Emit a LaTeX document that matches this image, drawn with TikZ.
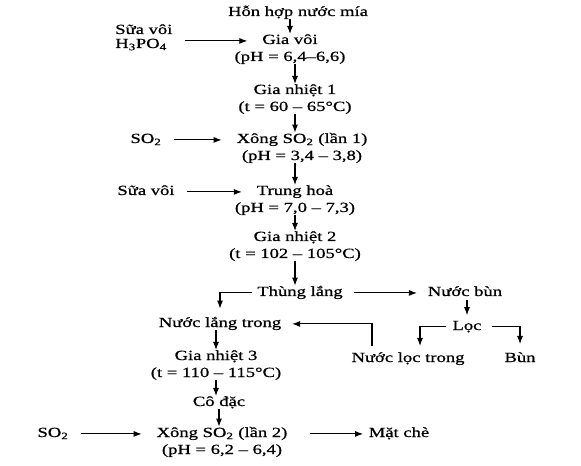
\documentclass[tikz,border=0pt]{standalone}
\usepackage{fontspec}
\setmainfont[FakeStretch=1.33, FakeBold=0.8]{Liberation Serif}
\usetikzlibrary{arrows.meta, positioning}
\tikzset{
    stage/.style={anchor=base, inner sep=0pt, font=\fontsize{10.5}{12.75}\selectfont},
    feed/.style={stage, anchor=base west},
    arrow/.style={-{Latex[length=6pt,width=4.5pt]}, line width=0.8pt},
    feedarrow/.style={arrow, shorten <=9pt, shorten >=11pt},
}

\begin{document}
\begin{tikzpicture}[x=0.75pt, y=-0.75pt]
    \useasboundingbox (0,0) rectangle (581,466);

    % main line
    \node[stage] (mix) at (298,16) {Hỗn hợp nước mía};
    \node[stage] (lime) at (290,44) {Gia vôi};
    \node[stage] (limeph) at ([yshift=-12.75pt]lime.base) {(pH = 6,4–6,6)};
    \node[stage] (heat1) at (295,94) {Gia nhiệt 1};
    \node[stage] (heat1t) at ([yshift=-12.75pt]heat1.base) {(t = 60 – 65°C)};
    \node[stage] (sulf1) at (302,143) {Xông SO\textsubscript{2} (lần 1)};
    \node[stage] (sulf1ph) at ([yshift=-12.75pt]sulf1.base) {(pH = 3,4 – 3,8)};
    \node[stage] (neutr) at (295,195) {Trung hoà};
    \node[stage] (neutrph) at ([yshift=-12.75pt]neutr.base) {(pH = 7,0 – 7,3)};
    \node[stage] (heat2) at (295,241) {Gia nhiệt 2};
    \node[stage] (heat2t) at ([yshift=-12.75pt]heat2.base) {(t = 102 – 105°C)};
    \node[stage] (settle) at (300,296) {Thùng lắng};

    % mud branch
    \node[stage] (mud) at (465,296) {Nước bùn};
    \node[stage] (filt) at (467,330) {Lọc};
    \node[stage] (filtrate) at (408,362) {Nước lọc trong};
    \node[stage] (cake) at (520,362) {Bùn};

    % clear juice
    \node[stage] (clear) at (220,327) {Nước lắng trong};
    \node[stage] (heat3) at (216,360) {Gia nhiệt 3};
    \node[stage] (heat3t) at ([yshift=-12.75pt]heat3.base) {(t = 110 – 115°C)};
    \node[stage] (conc) at (219,406) {Cô đặc};
    \node[stage] (sulf2) at (222,437) {Xông SO\textsubscript{2} (lần 2)};
    \node[stage] (sulf2ph) at ([yshift=-12.75pt]sulf2.base) {(pH = 6,2 – 6,4)};
    \node[stage] (molasses) at (399,437) {Mặt chè};

    % inputs
    \node[feed] (milk1) at (115,34) {Sữa vôi};
    \node[feed] (acid) at (115,48) {H\textsubscript{3}PO\textsubscript{4}};
    \node[stage] (so2a) at (146,143) {SO\textsubscript{2}};
    \node[stage] (milk2) at (146,195) {Sữa vôi};
    \node[stage] (so2b) at (53,437) {SO\textsubscript{2}};

    % arrows down the main line
    \draw[arrow] (lime.north |- mix.south) -- (lime.north);
    \draw[arrow] (heat1.north |- limeph.south) -- (heat1.north);
    \draw[arrow] (heat1t.south) -- (heat1t.south |- sulf1.north);
    \draw[arrow] (neutr.north |- sulf1ph.south) -- (neutr.north);
    \draw[arrow] (heat2.north |- neutrph.south) -- (heat2.north);
    \draw[arrow] (heat2t.south) -- (heat2t.south |- settle.north);

    % feeds
    \draw[feedarrow] (milk1.east |- lime.mid) -- (lime.mid west);
    \draw[feedarrow] (so2a.mid east) -- (sulf1.mid west);
    \draw[feedarrow] (milk2.mid east) -- (neutr.mid west);
    \draw[feedarrow] (so2b.mid east) -- (sulf2.mid west);
    \draw[arrow, shorten <=17pt, shorten >=4pt] (sulf2.mid east) -- (molasses.mid west);

    % settling and filtering
    \draw[arrow, shorten <=8pt, shorten >=8pt] (settle.mid east) -- (mud.mid west);
    \draw[arrow, shorten <=4pt, shorten >=6pt] (settle.mid west) -| (clear.north);
    \draw[arrow, shorten <=3pt, shorten >=4pt] (filt.north |- mud.south) -- (filt.north);
    \draw[arrow, shorten <=5pt, shorten >=4.5pt] (filt.mid west) -| ([xshift=9pt]filtrate.north);
    \draw[arrow, shorten <=8pt, shorten >=6pt] (filt.mid east) -| (cake.north);
    \draw[arrow, shorten <=4.5pt, shorten >=8pt] ([xshift=-27pt]filtrate.north) |- (clear.mid east);

    % clear juice down
    \draw[arrow] (heat3.north |- clear.south) -- (heat3.north);
    \draw[arrow] (heat3t.south) -- (heat3t.south |- conc.north);
    \draw[arrow] (conc.south) -- (conc.south |- sulf2.north);
\end{tikzpicture}
\end{document}
